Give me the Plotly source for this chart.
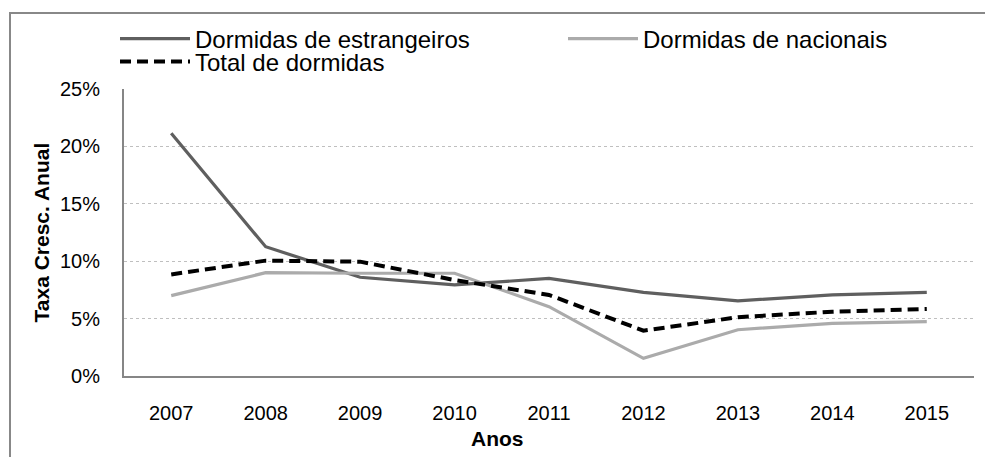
"""
Taxa de crescimento anual das dormidas (2007-2015)
"""

import plotly.graph_objects as go

anos = ["2007", "2008", "2009", "2010", "2011", "2012", "2013", "2014", "2015"]
estrangeiros = [0.2114, 0.1126, 0.0860, 0.0793, 0.0850, 0.0729, 0.0655, 0.0706, 0.0729]
nacionais = [0.0700, 0.0900, 0.0895, 0.0895, 0.0604, 0.0154, 0.0403, 0.0459, 0.0473]
total = [0.0885, 0.1005, 0.0996, 0.0836, 0.0706, 0.0395, 0.0512, 0.0560, 0.0584]

FONT = "Liberation Sans, Arial, sans-serif"
W, H = 985, 457
L, R, T, B = 124, 11, 89, 81
PW, PH = W - L - R, H - T - B


def px_x(x):
    return (x - L) / PW


def px_y(y):
    return (H - B - y) / PH


fig = go.Figure()

fig.add_trace(go.Scatter(
    x=anos, y=estrangeiros, mode='lines', name='Dormidas de estrangeiros',
    line=dict(color='#5f5f5f', width=3.2), legend='legend'
))
fig.add_trace(go.Scatter(
    x=anos, y=nacionais, mode='lines', name='Dormidas de nacionais',
    line=dict(color='#ababab', width=3.2), legend='legend2'
))
fig.add_trace(go.Scatter(
    x=anos, y=total, mode='lines', name='Total de dormidas',
    line=dict(color='#000000', width=4, dash='11px,6px'), legend='legend3'
))

legend_style = dict(
    orientation='h', xref='container', yref='container',
    xanchor='left', yanchor='middle',
    font=dict(family=FONT, size=24, color='#000000'),
    bgcolor='rgba(0,0,0,0)', itemwidth=70, itemclick=False, itemdoubleclick=False,
)

fig.update_layout(
    width=W, height=H,
    margin=dict(l=L, r=R, t=T, b=B, autoexpand=False),
    paper_bgcolor='white', plot_bgcolor='white',
    font=dict(family=FONT, size=20, color='#000000'),
    showlegend=True,
    legend=dict(legend_style, x=115 / W, y=1 - 39 / H),
    legend2=dict(legend_style, x=563 / W, y=1 - 39 / H),
    legend3=dict(legend_style, x=115 / W, y=1 - 62 / H),
    xaxis=dict(
        type='category', range=[-0.5, len(anos) - 0.5], automargin=False,
        showgrid=False, showline=True, linecolor='#868686', linewidth=2,
        ticks='outside', ticklen=18, tickcolor='rgba(0,0,0,0)',
        tickfont=dict(family=FONT, size=20), fixedrange=True,
    ),
    yaxis=dict(
        range=[0, 0.25], dtick=0.05, tickformat='.0%', automargin=False,
        showgrid=True, gridcolor='#bfbfbf', griddash='dot', gridwidth=1,
        showline=True, linecolor='#868686', linewidth=2, zeroline=False,
        ticks='outside', ticklen=18, tickcolor='rgba(0,0,0,0)',
        tickfont=dict(family=FONT, size=20), fixedrange=True,
    ),
    shapes=[dict(
        type='rect', xref='paper', yref='paper',
        x0=px_x(10), x1=px_x(990), y0=px_y(470), y1=px_y(13),
        line=dict(color='#888888', width=2), fillcolor='rgba(0,0,0,0)', layer='below',
    )],
    annotations=[
        dict(text='<b>Anos</b>', xref='paper', yref='paper', x=px_x(497), y=px_y(438),
             xanchor='center', yanchor='middle',
             showarrow=False, font=dict(family=FONT, size=21)),
        dict(text='<b>Taxa Cresc. Anual</b>', xref='paper', yref='paper', x=px_x(41), y=0.5,
             xanchor='center', yanchor='middle',
             textangle=-90, showarrow=False, font=dict(family=FONT, size=21)),
    ],
)

# la page HTML a une marge par défaut de 8px sur le body
fig.write_html("out.html", config={'displayModeBar': False},
               post_script="document.body.style.margin='0';")
